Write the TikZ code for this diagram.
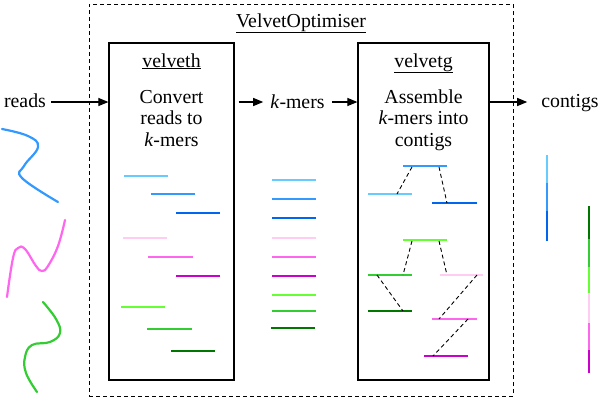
\documentclass[tikz,border=0pt]{standalone}
\usepackage{fontspec}
\setmainfont{Liberation Serif}
\usetikzlibrary{arrows.meta}
\definecolor{lb}{HTML}{66CCFF}
\definecolor{mb}{HTML}{3399FF}
\definecolor{db}{HTML}{0066EE}
\definecolor{lp}{HTML}{FFCCF2}
\definecolor{mp}{HTML}{FF66EE}
\definecolor{dp}{HTML}{CC00CC}
\definecolor{lg}{HTML}{66FF33}
\definecolor{mg}{HTML}{33CC33}
\definecolor{dg}{HTML}{007700}
\begin{document}
\begin{tikzpicture}[x=1pt,y=-1pt,
  txt/.style={font=\fontsize{19.8}{21.5}\selectfont, inner sep=0pt, anchor=base},
  box/.style={draw, line width=1.2pt, inner sep=0pt},
  outerbox/.style={draw, dashed, dash pattern=on 4pt off 3pt, line width=0.9pt, inner sep=0pt},
  arr/.style={line width=1.1pt, -{Triangle[length=10pt,width=8pt]}},
  seg/.style={line width=2.2pt},
  link/.style={dashed, dash pattern=on 4pt off 3pt, line width=0.9pt},
  curve/.style={line width=2.2pt, line cap=round}]
\useasboundingbox (0,0) rectangle (600,400);
% boxes
\node[outerbox, minimum width=424pt, minimum height=392pt] (vo) at (301,200) {};
\node[box, minimum width=125pt, minimum height=337pt] (velveth) at (171.5,211.5) {};
\node[box, minimum width=131pt, minimum height=337pt] (velvetg) at (423.5,211.5) {};
% titles and texts
\node[txt] (votitle) at (301,27) {\underline{VelvetOptimiser}};
\node[txt] (vhtitle) at (171.5,67) {\underline{velveth}};
\node[txt] (vgtitle) at (423.5,67) {\underline{velvetg}};
\node[txt] (vh1) at (171.5,103) {Convert};
\node[txt] (vh2) at (171.5,124.5) {reads to};
\node[txt] (vh3) at (171.5,146) {\textit{k}-mers};
\node[txt] (vg1) at (423.5,103) {Assemble};
\node[txt] (vg2) at (423.5,124.5) {\textit{k}-mers into};
\node[txt] (vg3) at (423.5,146) {contigs};
\node[txt] (reads) at (25,107) {reads};
\node[txt] (kmers) at (297.5,108) {\textit{k}-mers};
\node[txt] (contigs) at (570,107) {contigs};
% arrows
\coordinate (ay) at (0,102);
\draw[arr] ([xshift=5pt]reads.east |- ay) -- (velveth.west |- ay);
\draw[arr] ([xshift=4pt]velveth.east |- ay) -- ([xshift=-7pt]kmers.west |- ay);
\draw[arr] ([xshift=7pt]kmers.east |- ay) -- (velvetg.west |- ay);
\draw[arr] (velvetg.east |- ay) -- ([xshift=-14pt]contigs.west |- ay);
% read curves
\draw[curve, mb] plot[smooth, tension=0.7] coordinates {(2,129) (28,136) (38,147) (24,166) (22,178) (58,202)};
\draw[curve, mp] plot[smooth, tension=0.7] coordinates {(65,220) (58,246) (48,266) (42,271) (36,266) (25,249) (18,248) (13,258) (7,297)};
\draw[curve, mg] plot[smooth, tension=0.7] coordinates {(43,302) (56,319) (60,333) (50,342) (32,345) (25,357) (26,373) (37,392)};
% velveth k-mers
\draw[seg, lb] (124,176) -- (168,176);
\draw[seg, mb] (151,194) -- (195,194);
\draw[seg, db] (176,213) -- (220,213);
\draw[seg, lp] (123,238) -- (167,238);
\draw[seg, mp] (148,257) -- (193,257);
\draw[seg, dp] (176,276) -- (220,276);
\draw[seg, lg] (121,307) -- (165,307);
\draw[seg, mg] (147,329) -- (192,329);
\draw[seg, dg] (171,351) -- (215,351);
% k-mers column
\draw[seg, lb] (272,180) -- (316,180);
\draw[seg, mb] (272,199) -- (316,199);
\draw[seg, db] (272,218) -- (316,218);
\draw[seg, lp] (272,238) -- (316,238);
\draw[seg, mp] (272,257) -- (316,257);
\draw[seg, dp] (272,276) -- (316,276);
\draw[seg, lg] (272,295) -- (316,295);
\draw[seg, mg] (272,311) -- (316,311);
\draw[seg, dg] (271,328) -- (315,328);
% velvetg graph
\draw[seg, mb] (403,166) -- (447,166);
\draw[seg, lb] (368,194) -- (412,194);
\draw[seg, db] (432,203) -- (477,203);
\draw[seg, lg] (403,240) -- (447,240);
\draw[seg, mg] (368,275) -- (412,275);
\draw[seg, lp] (440,275) -- (483,275);
\draw[seg, dg] (368,311) -- (412,311);
\draw[seg, mp] (432,319) -- (477,319);
\draw[seg, dp] (424,356) -- (468,356);
\draw[link] (412,167) -- (397,194);
\draw[link] (439,167) -- (447,203);
\draw[link] (412,241) -- (403,275);
\draw[link] (439,241) -- (447,275);
\draw[link] (377,275) -- (403,311);
\draw[link] (477,275) -- (439,319);
\draw[link] (468,319) -- (433,356);
% contigs
\draw[seg, lb] (547,155) -- (547,183);
\draw[seg, mb] (547,183) -- (547,211);
\draw[seg, db] (547,211) -- (547,241);
\draw[seg, dg] (589,206) -- (589,239);
\draw[seg, mg] (589,239) -- (589,267);
\draw[seg, lg] (589,267) -- (589,293);
\draw[seg, lp] (589,293) -- (589,323);
\draw[seg, mp] (589,323) -- (589,350);
\draw[seg, dp] (589,350) -- (589,373);
\end{tikzpicture}
\end{document}
